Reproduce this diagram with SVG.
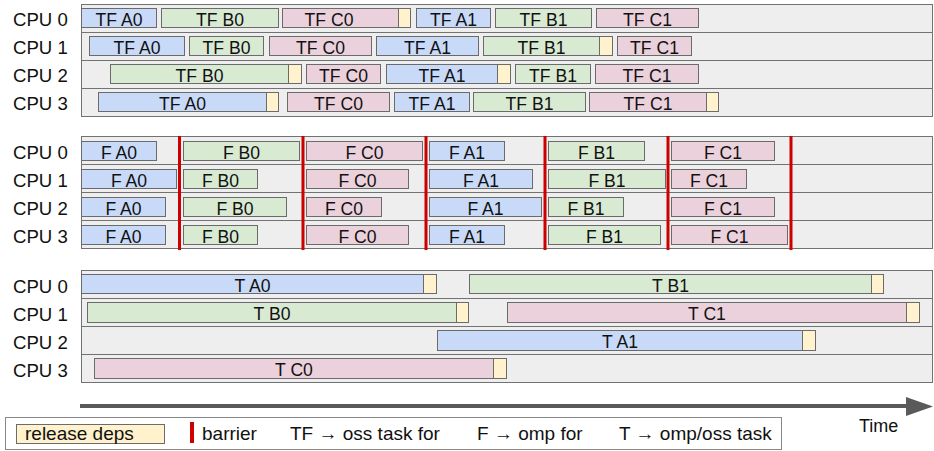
<svg xmlns="http://www.w3.org/2000/svg" width="934" height="451" viewBox="0 0 934 451">
<style>
.row{fill:#eeeeee;stroke:#727272;stroke-width:1}
.a{fill:#c9daf8;stroke:#6b6b6b;stroke-width:1}
.b{fill:#d9ead3;stroke:#6b6b6b;stroke-width:1}
.c{fill:#ead1dc;stroke:#6b6b6b;stroke-width:1}
.r{fill:#fff2cc;stroke:#6b6b6b;stroke-width:1}
.bar{fill:#cc0000}
text{font-family:"Liberation Sans",Arial,sans-serif;fill:#111}
.t{font-size:17.6px;text-anchor:middle}
.cpu{font-size:18.6px}
.lg{font-size:19px}
</style>
<rect width="934" height="451" fill="#ffffff"/>

<g id="panel-tf">
<rect class="row" x="81.5" y="4.5" width="851" height="28"/>
<rect class="row" x="81.5" y="32.5" width="851" height="28"/>
<rect class="row" x="81.5" y="60.5" width="851" height="28"/>
<rect class="row" x="81.5" y="88.5" width="851" height="28"/>
<text class="cpu" x="13" y="26">CPU 0</text>
<text class="cpu" x="13" y="54">CPU 1</text>
<text class="cpu" x="13" y="82">CPU 2</text>
<text class="cpu" x="13" y="110">CPU 3</text>
</g>
<g id="tf-cpu0">
<rect class="a" x="81.5" y="8.5" width="75" height="19"/><text class="t" x="119" y="25.5">TF A0</text>
<rect class="b" x="161.5" y="8.5" width="117" height="19"/><text class="t" x="220" y="25.5">TF B0</text>
<rect class="c" x="282.5" y="8.5" width="116" height="19"/><rect class="r" x="398.5" y="8.5" width="12" height="19"/><text class="t" x="329" y="25.5">TF C0</text>
<rect class="a" x="416.5" y="8.5" width="74" height="19"/><text class="t" x="453.5" y="25.5">TF A1</text>
<rect class="b" x="495.5" y="8.5" width="96" height="19"/><text class="t" x="543.5" y="25.5">TF B1</text>
<rect class="c" x="596.5" y="8.5" width="102" height="19"/><text class="t" x="647.5" y="25.5">TF C1</text>
</g>
<g id="tf-cpu1">
<rect class="a" x="89.5" y="36.5" width="95" height="19"/><text class="t" x="137" y="53.5">TF A0</text>
<rect class="b" x="189.5" y="36.5" width="74" height="19"/><text class="t" x="226.5" y="53.5">TF B0</text>
<rect class="c" x="269.5" y="36.5" width="102" height="19"/><text class="t" x="320.5" y="53.5">TF C0</text>
<rect class="a" x="376.5" y="36.5" width="102" height="19"/><text class="t" x="427.5" y="53.5">TF A1</text>
<rect class="b" x="483.5" y="36.5" width="116" height="19"/><rect class="r" x="599.5" y="36.5" width="13" height="19"/><text class="t" x="541.5" y="53.5">TF B1</text>
<rect class="c" x="617.5" y="36.5" width="74" height="19"/><text class="t" x="654.5" y="53.5">TF C1</text>
</g>
<g id="tf-cpu2">
<rect class="b" x="110.5" y="64.5" width="178" height="19"/><rect class="r" x="288.5" y="64.5" width="13" height="19"/><text class="t" x="199.5" y="81.5">TF B0</text>
<rect class="c" x="306.5" y="64.5" width="74" height="19"/><text class="t" x="343.5" y="81.5">TF C0</text>
<rect class="a" x="386.5" y="64.5" width="111" height="19"/><rect class="r" x="497.5" y="64.5" width="13" height="19"/><text class="t" x="442" y="81.5">TF A1</text>
<rect class="b" x="515.5" y="64.5" width="75" height="19"/><text class="t" x="553" y="81.5">TF B1</text>
<rect class="c" x="595.5" y="64.5" width="103" height="19"/><text class="t" x="647" y="81.5">TF C1</text>
</g>
<g id="tf-cpu3">
<rect class="a" x="98.5" y="92.5" width="168" height="19"/><rect class="r" x="266.5" y="92.5" width="12" height="19"/><text class="t" x="182.5" y="109.5">TF A0</text>
<rect class="c" x="287.5" y="92.5" width="102" height="19"/><text class="t" x="338.5" y="109.5">TF C0</text>
<rect class="a" x="394.5" y="92.5" width="75" height="19"/><text class="t" x="432" y="109.5">TF A1</text>
<rect class="b" x="473.5" y="92.5" width="112" height="19"/><text class="t" x="529.5" y="109.5">TF B1</text>
<rect class="c" x="589.5" y="92.5" width="117" height="19"/><rect class="r" x="706.5" y="92.5" width="12" height="19"/><text class="t" x="648" y="109.5">TF C1</text>
</g>

<g id="panel-f">
<rect class="row" x="81.5" y="136.5" width="851" height="28"/>
<rect class="row" x="81.5" y="164.5" width="851" height="28"/>
<rect class="row" x="81.5" y="192.5" width="851" height="28"/>
<rect class="row" x="81.5" y="220.5" width="851" height="28"/>
<text class="cpu" x="13" y="159">CPU 0</text>
<text class="cpu" x="13" y="187">CPU 1</text>
<text class="cpu" x="13" y="215">CPU 2</text>
<text class="cpu" x="13" y="243">CPU 3</text>
</g>
<g id="f-cpu0">
<rect class="a" x="81.5" y="141.5" width="75" height="19"/><text class="t" x="119" y="158.5">F A0</text>
<rect class="b" x="183.5" y="141.5" width="116" height="19"/><text class="t" x="241.5" y="158.5">F B0</text>
<rect class="c" x="306.5" y="141.5" width="116" height="19"/><text class="t" x="364.5" y="158.5">F C0</text>
<rect class="a" x="429.5" y="141.5" width="75" height="19"/><text class="t" x="467" y="158.5">F A1</text>
<rect class="b" x="548.5" y="141.5" width="96" height="19"/><text class="t" x="596.5" y="158.5">F B1</text>
<rect class="c" x="671.5" y="141.5" width="103" height="19"/><text class="t" x="723" y="158.5">F C1</text>
</g>
<g id="f-cpu1">
<rect class="a" x="81.5" y="169.5" width="95" height="19"/><text class="t" x="129" y="186.5">F A0</text>
<rect class="b" x="183.5" y="169.5" width="74" height="19"/><text class="t" x="220.5" y="186.5">F B0</text>
<rect class="c" x="306.5" y="169.5" width="102" height="19"/><text class="t" x="357.5" y="186.5">F C0</text>
<rect class="a" x="429.5" y="169.5" width="103" height="19"/><text class="t" x="481" y="186.5">F A1</text>
<rect class="b" x="548.5" y="169.5" width="117" height="19"/><text class="t" x="607" y="186.5">F B1</text>
<rect class="c" x="671.5" y="169.5" width="75" height="19"/><text class="t" x="709" y="186.5">F C1</text>
</g>
<g id="f-cpu2">
<rect class="a" x="81.5" y="197.5" width="84" height="19"/><text class="t" x="123.5" y="214.5">F A0</text>
<rect class="b" x="183.5" y="197.5" width="103" height="19"/><text class="t" x="235" y="214.5">F B0</text>
<rect class="c" x="306.5" y="197.5" width="75" height="19"/><text class="t" x="344" y="214.5">F C0</text>
<rect class="a" x="429.5" y="197.5" width="112" height="19"/><text class="t" x="485.5" y="214.5">F A1</text>
<rect class="b" x="548.5" y="197.5" width="75" height="19"/><text class="t" x="586" y="214.5">F B1</text>
<rect class="c" x="671.5" y="197.5" width="103" height="19"/><text class="t" x="723" y="214.5">F C1</text>
</g>
<g id="f-cpu3">
<rect class="a" x="81.5" y="225.5" width="84" height="19"/><text class="t" x="123.5" y="242.5">F A0</text>
<rect class="b" x="183.5" y="225.5" width="74" height="19"/><text class="t" x="220.5" y="242.5">F B0</text>
<rect class="c" x="306.5" y="225.5" width="102" height="19"/><text class="t" x="357.5" y="242.5">F C0</text>
<rect class="a" x="429.5" y="225.5" width="75" height="19"/><text class="t" x="467" y="242.5">F A1</text>
<rect class="b" x="548.5" y="225.5" width="112" height="19"/><text class="t" x="604.5" y="242.5">F B1</text>
<rect class="c" x="671.5" y="225.5" width="116" height="19"/><text class="t" x="729.5" y="242.5">F C1</text>
</g>
<g id="barriers">
<rect class="bar" x="178" y="136" width="3" height="114"/>
<rect class="bar" x="301.5" y="136" width="3" height="114"/>
<rect class="bar" x="424.5" y="136" width="3" height="114"/>
<rect class="bar" x="543.5" y="136" width="3" height="114"/>
<rect class="bar" x="666.5" y="136" width="3" height="114"/>
<rect class="bar" x="789.5" y="136" width="3" height="114"/>
</g>

<g id="panel-t">
<rect class="row" x="81.5" y="270.5" width="851" height="28"/>
<rect class="row" x="81.5" y="298.5" width="851" height="28"/>
<rect class="row" x="81.5" y="326.5" width="851" height="28"/>
<rect class="row" x="81.5" y="354.5" width="851" height="28"/>
<text class="cpu" x="13" y="293">CPU 0</text>
<text class="cpu" x="13" y="321">CPU 1</text>
<text class="cpu" x="13" y="349">CPU 2</text>
<text class="cpu" x="13" y="377">CPU 3</text>
</g>
<g id="t-cpu0">
<rect class="a" x="81.5" y="274.5" width="342" height="19"/><rect class="r" x="423.5" y="274.5" width="13" height="19"/><text class="t" x="252.5" y="291.5">T A0</text>
<rect class="b" x="469.5" y="274.5" width="402" height="19"/><rect class="r" x="871.5" y="274.5" width="12" height="19"/><text class="t" x="670.5" y="291.5">T B1</text>
</g>
<g id="t-cpu1">
<rect class="b" x="87.5" y="302.5" width="369" height="20"/><rect class="r" x="456.5" y="302.5" width="12" height="20"/><text class="t" x="272" y="320">T B0</text>
<rect class="c" x="507.5" y="302.5" width="399" height="20"/><rect class="r" x="906.5" y="302.5" width="13" height="20"/><text class="t" x="707" y="320">T C1</text>
</g>
<g id="t-cpu2">
<rect class="a" x="437.5" y="330.5" width="365" height="20"/><rect class="r" x="802.5" y="330.5" width="13" height="20"/><text class="t" x="620" y="348">T A1</text>
</g>
<g id="t-cpu3">
<rect class="c" x="94.5" y="358.5" width="399" height="20"/><rect class="r" x="493.5" y="358.5" width="13" height="20"/><text class="t" x="294" y="376">T C0</text>
</g>

<g id="connectors">
<line x1="80" y1="406" x2="909" y2="406" stroke="#5a5a5a" stroke-width="4"/>
<polygon points="906,397 933,406.5 906,416" fill="#5a5a5a"/>
</g>
<g id="time-label">
<text x="859" y="432" font-size="18">Time</text>
</g>

<g id="legend">
<rect x="5.5" y="417.5" width="776" height="32" fill="#ffffff" stroke="#888888"/>
<rect class="r" x="16.5" y="424.5" width="148" height="19"/>
<text class="lg" x="25" y="440">release deps</text>
<rect class="bar" x="190" y="422" width="4" height="21"/>
<text class="lg" x="202" y="440">barrier</text>
<text class="lg" x="290" y="440">TF → oss task for</text>
<text class="lg" x="477" y="440">F → omp for</text>
<text class="lg" x="619" y="440">T → omp/oss task</text>
</g>
</svg>
